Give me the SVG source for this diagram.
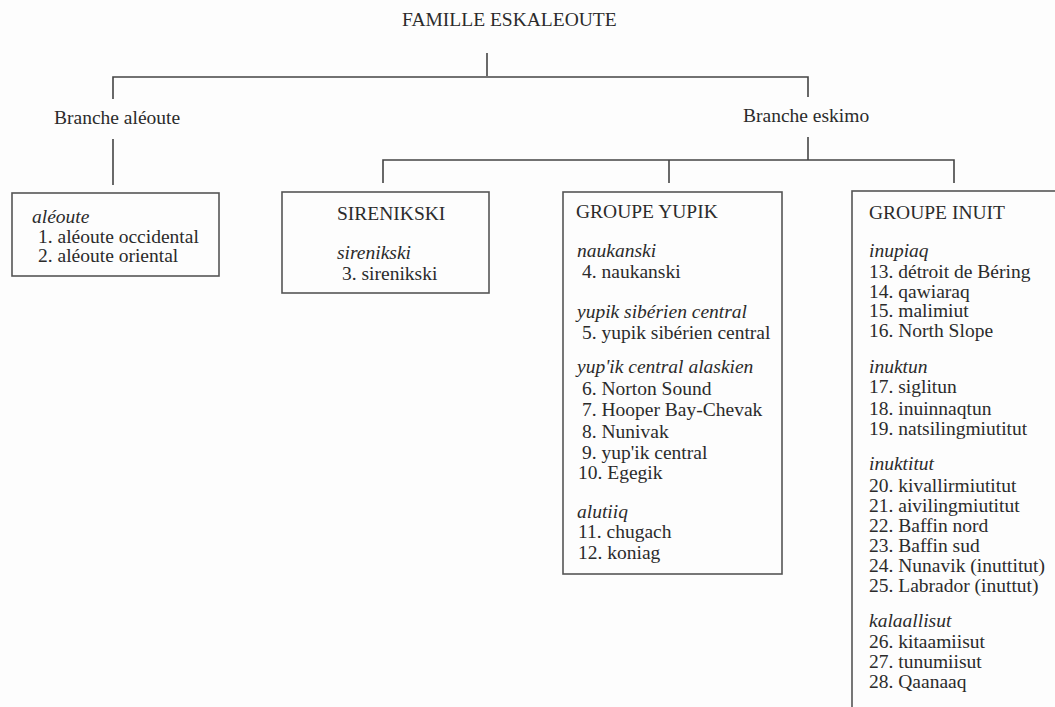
<svg xmlns="http://www.w3.org/2000/svg" width="1055" height="707" viewBox="0 0 1055 707">
<style>
text{font-family:"Liberation Serif","Times New Roman",serif;font-size:19.5px;fill:#2b2b2b}
.i{font-style:italic}
.box{fill:none;stroke:#555;stroke-width:1.6}
.ln{fill:none;stroke:#444;stroke-width:1.6}
</style>
<rect width="1055" height="707" fill="#fdfdfd"/>
<g id="connectors">
<path class="ln" d="M487,53 V76"/>
<path class="ln" d="M113,99 V77 H808 V97"/>
<path class="ln" d="M113,139 V185"/>
<path class="ln" d="M808,137 V160"/>
<path class="ln" d="M383,183 V160 H954 V183"/>
<path class="ln" d="M669,160 V183"/>
</g>
<g id="famille"><text x="402" y="26">FAMILLE ESKALEOUTE</text></g>
<g id="branche-aleoute"><text x="54" y="124">Branche aléoute</text></g>
<g id="branche-eskimo"><text x="743" y="122">Branche eskimo</text></g>
<g id="aleoute">
<rect class="box" x="12" y="193" width="207" height="83"/>
<text class="i" x="32" y="223">aléoute</text>
<text x="38" y="243">1. aléoute occidental</text>
<text x="38" y="262">2. aléoute oriental</text>
</g>
<g id="sirenikski">
<rect class="box" x="282" y="192" width="207" height="101"/>
<text x="337" y="220">SIRENIKSKI</text>
<text class="i" x="337" y="259">sirenikski</text>
<text x="342" y="280">3. sirenikski</text>
</g>
<g id="yupik">
<rect class="box" x="563" y="192" width="219" height="382"/>
<text x="576" y="218">GROUPE YUPIK</text>
<text class="i" x="577" y="257">naukanski</text>
<text x="582" y="278">4. naukanski</text>
<text class="i" x="577" y="318">yupik sibérien central</text>
<text x="582" y="339">5. yupik sibérien central</text>
<text class="i" x="577" y="373">yup'ik central alaskien</text>
<text x="582" y="395">6. Norton Sound</text>
<text x="582" y="416">7. Hooper Bay-Chevak</text>
<text x="582" y="438">8. Nunivak</text>
<text x="582" y="459">9. yup'ik central</text>
<text x="578" y="479">10. Egegik</text>
<text class="i" x="577" y="518">alutiiq</text>
<text x="578" y="538">11. chugach</text>
<text x="578" y="559">12. koniag</text>
</g>
<g id="inuit">
<rect class="box" x="852" y="191" width="240" height="560"/>
<text x="869" y="219">GROUPE INUIT</text>
<text class="i" x="869" y="257">inupiaq</text>
<text x="869" y="278">13. détroit de Béring</text>
<text x="869" y="298">14. qawiaraq</text>
<text x="869" y="317">15. malimiut</text>
<text x="869" y="337">16. North Slope</text>
<text class="i" x="869" y="373">inuktun</text>
<text x="869" y="393">17. siglitun</text>
<text x="869" y="415">18. inuinnaqtun</text>
<text x="869" y="435">19. natsilingmiutitut</text>
<text class="i" x="869" y="470">inuktitut</text>
<text x="869" y="492">20. kivallirmiutitut</text>
<text x="869" y="512">21. aivilingmiutitut</text>
<text x="869" y="532">22. Baffin nord</text>
<text x="869" y="552">23. Baffin sud</text>
<text x="869" y="572">24. Nunavik (inuttitut)</text>
<text x="869" y="592">25. Labrador (inuttut)</text>
<text class="i" x="869" y="627">kalaallisut</text>
<text x="869" y="648">26. kitaamiisut</text>
<text x="869" y="668">27. tunumiisut</text>
<text x="869" y="688">28. Qaanaaq</text>
</g>
</svg>
